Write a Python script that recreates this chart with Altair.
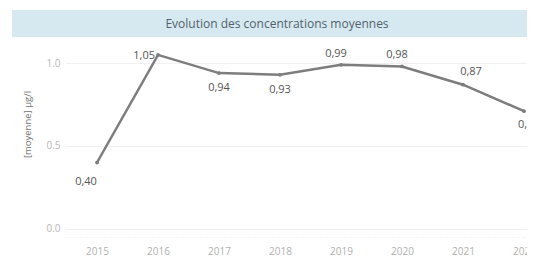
import altair as alt
import pandas as pd

years = [2015, 2016, 2017, 2018, 2019, 2020, 2021, 2022]
values = [0.40, 1.05, 0.94, 0.93, 0.99, 0.98, 0.87, 0.71]
title_text = "Evolution des concentrations moyennes"
y_title = "[moyenne] µg/l"
y_ticks = [0.0, 0.5, 1.0]

below = [2017, 2018]
above = [2019, 2020]

df = pd.DataFrame({"annee": years, "valeur": values})
FONT = "Open Sans"

x = alt.X("annee:Q", scale=alt.Scale(domain=[2014.475, 2022.049], nice=False, zero=False),
          axis=alt.Axis(values=years, format="d", title=None, grid=False, ticks=False,
                        labelColor="#b0b0b0", labelFontSize=10, labelFont=FONT, labelPadding=9,
                        domainColor="#e6e6e6", domainDash=[1, 2], labelFlush=False))
y = alt.Y("valeur:Q", scale=alt.Scale(domain=[-0.05, 1.14], nice=False, zero=False),
          axis=alt.Axis(values=y_ticks, format=".1f", title=y_title, grid=True, gridColor="#f0f0f0",
                        ticks=False, domain=False, labelColor="#b8b8b8", labelFontSize=10, labelFont=FONT,
                        labelPadding=5, titleColor="#707070", titleFontSize=9.5, titleFont=FONT,
                        titleFontWeight="normal", titleX=-38, titleY=84, titleAngle=-90,
                        titleAlign="center", titleBaseline="middle"))

base = alt.Chart(df).transform_calculate(
    lab="replace(format(datum.valeur, '.2f'), '.', ',')")

line = base.mark_line(color="#7d7d7d", strokeWidth=2.5).encode(x=x, y=y)
pts = base.mark_point(filled=True, color="#7d7d7d", size=14, opacity=1).encode(x=x, y=y)

def lbl(sel, **kw):
    return base.transform_filter(alt.FieldOneOfPredicate(field="annee", oneOf=sel)).mark_text(
        font=FONT, fontSize=11, color="#555555", **kw).encode(x=x, y=y, text="lab:N")

t2015 = lbl([2015], dx=-11, dy=19)
t2016 = lbl([2016], dx=-3, dy=1, align="right")
tbelow = lbl(below, dy=15)
tabove = lbl(above, dx=-5, dy=-11)
t2021 = lbl([2021], dx=8, dy=-13)
t2022 = lbl([2022], dx=-6, dy=14, align="left")

tdf = pd.DataFrame({"t": [title_text]})
band = alt.Chart(tdf).mark_rect(color="#d6e9f0").encode(
    x=alt.value(-53), x2=alt.value(470), y=alt.value(-30), y2=alt.value(-3))
ttl = alt.Chart(tdf).mark_text(font=FONT, fontSize=12, color="#52626d").encode(
    x=alt.value(212), y=alt.value(-16), text="t:N")

chart = alt.layer(band, ttl, line, pts, t2015, t2016, tbelow, tabove, t2021, t2022).properties(
    width=462, height=197,
    autosize=alt.AutoSizeParams(type="none"),
    padding={"left": 57, "top": 32, "right": 0, "bottom": 23},
    background="white",
).configure_view(stroke=None)

chart.save("out.html", embed_options={"renderer": "svg", "actions": False})
